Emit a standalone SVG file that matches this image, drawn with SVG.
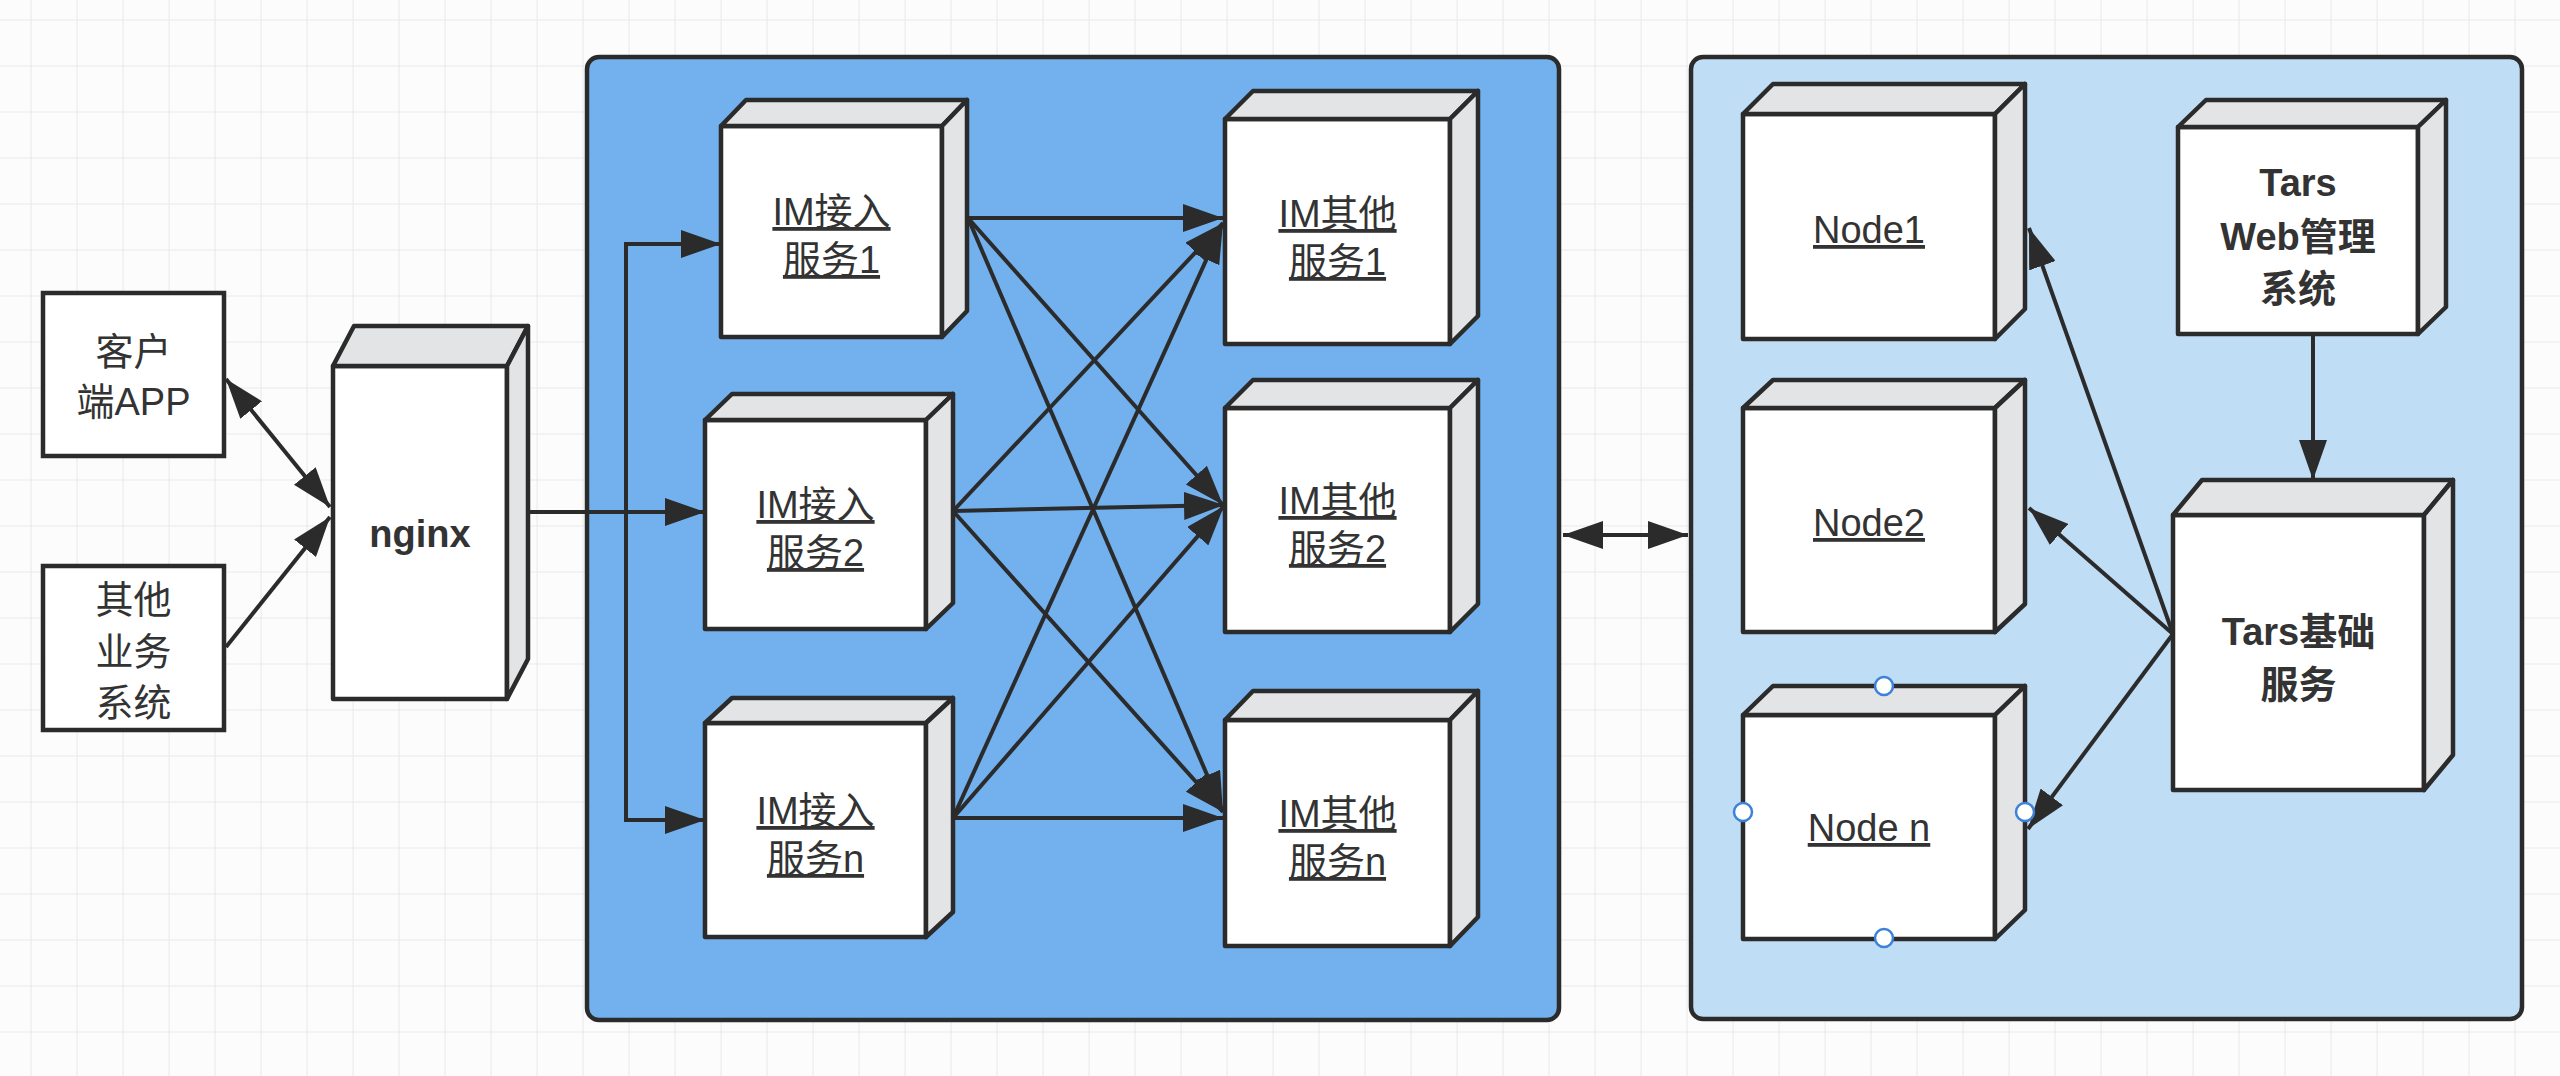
<svg xmlns="http://www.w3.org/2000/svg" width="2560" height="1076" viewBox="0 0 2560 1076">
<defs>
<pattern id="grid" x="30.6" y="19.5" width="46" height="46" patternUnits="userSpaceOnUse">
<path d="M46 0 L0 0 0 46" fill="none" stroke="#E6E9EC" stroke-width="2"/>
</pattern>
<marker id="ah" markerUnits="userSpaceOnUse" markerWidth="40" markerHeight="28" refX="40" refY="14" orient="auto-start-reverse" viewBox="0 0 40 28">
<path d="M0 0 L40 14 L0 28 Z" fill="#2B2B2B"/>
</marker>
<style>
.face{fill:#FFFFFF;stroke:#2B2B2B;stroke-width:4.5;stroke-linejoin:round}
.side{fill:#E2E4E6;stroke:#2B2B2B;stroke-width:4.5;stroke-linejoin:round}
.box{fill:#FFFFFF;stroke:#2B2B2B;stroke-width:4.5}
.t{font-family:"Liberation Sans","Noto Sans CJK SC",sans-serif;font-size:38px;fill:#333333;text-anchor:middle}
.b{font-weight:bold}
.u{text-decoration:underline}
.edge{fill:none;stroke:#2B2B2B;stroke-width:4}
.arr{marker-end:url(#ah)}
.both{marker-start:url(#ah);marker-end:url(#ah)}
.handle{fill:#FFFFFF;stroke:#3C82D9;stroke-width:2.5}
</style>
</defs>
<rect x="0" y="0" width="2560" height="1076" fill="#FCFCFD"/>
<rect x="0" y="0" width="2560" height="1076" fill="url(#grid)"/>

<g id="container-im">
<rect x="587" y="57" width="972" height="963" rx="12" fill="#72B1EE" stroke="#2B2B2B" stroke-width="4.5"/>
</g>
<g id="container-tars">
<rect x="1691" y="57" width="831" height="962" rx="12" fill="#C0DDF6" stroke="#2B2B2B" stroke-width="4.5"/>
</g>

<g id="client-app">
<rect class="box" x="43" y="293" width="181" height="163"/>
<text class="t" x="133.5" y="365">客户</text>
<text class="t" x="133.5" y="415">端APP</text>
</g>
<g id="other-biz">
<rect class="box" x="43" y="566" width="181" height="164"/>
<text class="t" x="133.5" y="613">其他</text>
<text class="t" x="133.5" y="665">业务</text>
<text class="t" x="133.5" y="716">系统</text>
</g>

<g id="nginx">
<rect class="face" x="333" y="366" width="174" height="333"/>
<polygon class="side" points="333,366 354,326 528,326 507,366"/>
<polygon class="side" points="507,366 528,326 528,659 507,699"/>
<text class="t b" x="420" y="547">nginx</text>
</g>

<g id="im-access-1">
<rect class="face" x="721" y="126" width="221" height="211"/>
<polygon class="side" points="721,126 746,100 967,100 942,126"/>
<polygon class="side" points="942,126 967,100 967,311 942,337"/>
<text class="t u" x="831.5" y="225">IM接入</text>
<text class="t u" x="831.5" y="273">服务1</text>
</g>
<g id="im-access-2">
<rect class="face" x="705" y="420" width="221" height="209"/>
<polygon class="side" points="705,420 732,394 953,394 926,420"/>
<polygon class="side" points="926,420 953,394 953,603 926,629"/>
<text class="t u" x="815.5" y="518">IM接入</text>
<text class="t u" x="815.5" y="566">服务2</text>
</g>
<g id="im-access-n">
<rect class="face" x="705" y="723" width="221" height="214"/>
<polygon class="side" points="705,723 732,698 953,698 926,723"/>
<polygon class="side" points="926,723 953,698 953,912 926,937"/>
<text class="t u" x="815.5" y="824">IM接入</text>
<text class="t u" x="815.5" y="872">服务n</text>
</g>

<g id="im-other-1">
<rect class="face" x="1225" y="119" width="225" height="225"/>
<polygon class="side" points="1225,119 1253,91 1478,91 1450,119"/>
<polygon class="side" points="1450,119 1478,91 1478,316 1450,344"/>
<text class="t u" x="1337.5" y="227">IM其他</text>
<text class="t u" x="1337.5" y="275">服务1</text>
</g>
<g id="im-other-2">
<rect class="face" x="1225" y="408" width="225" height="224"/>
<polygon class="side" points="1225,408 1253,380 1478,380 1450,408"/>
<polygon class="side" points="1450,408 1478,380 1478,604 1450,632"/>
<text class="t u" x="1337.5" y="514">IM其他</text>
<text class="t u" x="1337.5" y="562">服务2</text>
</g>
<g id="im-other-n">
<rect class="face" x="1225" y="720" width="225" height="226"/>
<polygon class="side" points="1225,720 1253,691 1478,691 1450,720"/>
<polygon class="side" points="1450,720 1478,691 1478,917 1450,946"/>
<text class="t u" x="1337.5" y="827">IM其他</text>
<text class="t u" x="1337.5" y="875">服务n</text>
</g>

<g id="node-1">
<rect class="face" x="1743" y="114" width="252" height="225"/>
<polygon class="side" points="1743,114 1773,84 2025,84 1995,114"/>
<polygon class="side" points="1995,114 2025,84 2025,309 1995,339"/>
<text class="t u" x="1869" y="243">Node1</text>
</g>
<g id="node-2">
<rect class="face" x="1743" y="408" width="252" height="224"/>
<polygon class="side" points="1743,408 1773,380 2025,380 1995,408"/>
<polygon class="side" points="1995,408 2025,380 2025,604 1995,632"/>
<text class="t u" x="1869" y="536">Node2</text>
</g>
<g id="node-n">
<rect class="face" x="1743" y="715" width="252" height="224"/>
<polygon class="side" points="1743,715 1773,686 2025,686 1995,715"/>
<polygon class="side" points="1995,715 2025,686 2025,910 1995,939"/>
<text class="t u" x="1869" y="841">Node n</text>
</g>

<g id="tars-web">
<rect class="face" x="2178" y="127" width="240" height="207"/>
<polygon class="side" points="2178,127 2206,100 2446,100 2418,127"/>
<polygon class="side" points="2418,127 2446,100 2446,307 2418,334"/>
<text class="t b" x="2298" y="196">Tars</text>
<text class="t b" x="2298" y="250">Web管理</text>
<text class="t b" x="2298" y="302">系统</text>
</g>
<g id="tars-base">
<rect class="face" x="2173" y="515" width="251" height="275"/>
<polygon class="side" points="2173,515 2202,480 2453,480 2424,515"/>
<polygon class="side" points="2424,515 2453,480 2453,755 2424,790"/>
<text class="t b" x="2298.5" y="645">Tars基础</text>
<text class="t b" x="2298.5" y="698">服务</text>
</g>

<g id="connectors">
<line class="edge both" x1="226" y1="379" x2="330" y2="507"/>
<line class="edge arr" x1="226" y1="647" x2="330" y2="517"/>
<polyline class="edge arr" points="528,512 705,512"/>
<polyline class="edge arr" points="528,512 626,512 626,244 721,244"/>
<polyline class="edge arr" points="626,512 626,820 705,820"/>

<line class="edge arr" x1="968" y1="218" x2="1223" y2="218"/>
<line class="edge arr" x1="968" y1="218" x2="1223" y2="505"/>
<line class="edge arr" x1="968" y1="218" x2="1223" y2="812"/>
<line class="edge arr" x1="953" y1="511" x2="1223" y2="223"/>
<line class="edge arr" x1="953" y1="511" x2="1224" y2="505"/>
<line class="edge arr" x1="953" y1="511" x2="1223" y2="812"/>
<line class="edge arr" x1="953" y1="818" x2="1223" y2="223"/>
<line class="edge arr" x1="953" y1="818" x2="1224" y2="506"/>
<line class="edge arr" x1="953" y1="818" x2="1223" y2="818"/>

<line class="edge both" x1="1563" y1="535" x2="1688" y2="535"/>

<line class="edge arr" x1="2173" y1="634" x2="2029" y2="228"/>
<line class="edge arr" x1="2173" y1="634" x2="2029" y2="508"/>
<line class="edge arr" x1="2173" y1="634" x2="2028" y2="829"/>
<line class="edge arr" x1="2313" y1="334" x2="2313" y2="480"/>
</g>

<g id="selection-handles">
<circle class="handle" cx="1884" cy="686" r="9"/>
<circle class="handle" cx="1884" cy="938" r="9"/>
<circle class="handle" cx="1743" cy="812" r="9"/>
<circle class="handle" cx="2025" cy="812" r="9"/>
</g>
</svg>
